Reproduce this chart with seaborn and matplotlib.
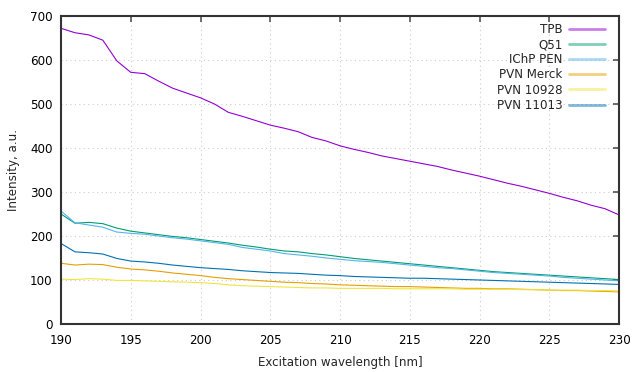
import numpy as np
import pandas as pd
import matplotlib
matplotlib.use("Agg")
import matplotlib.pyplot as plt
import seaborn as sns
from matplotlib.lines import Line2D

# wavelength grid, 1 nm steps
wavelength = list(range(190, 231))

tpb = [672, 662, 657, 645, 598, 572, 569, 552, 536, 525, 514, 500, 481, 472, 462, 452,
       445, 437, 424, 416, 405, 397, 390, 382, 376, 370, 364, 358, 350, 343, 336, 328,
       320, 313, 305, 297, 288, 280, 270, 262, 248]
q51 = [250, 229, 231, 228, 218, 211, 207, 203, 199, 196, 192, 188, 184, 179, 175, 170,
       166, 164, 160, 157, 153, 149, 146, 143, 140, 137, 134, 131, 128, 125, 122, 119,
       117, 115, 113, 111, 109, 107, 105, 103, 101]
ichp_pen = [257, 230, 225, 220, 209, 206, 204, 200, 196, 193, 189, 185, 181, 174, 170, 166,
            160, 157, 154, 150, 147, 144, 142, 140, 137, 134, 131, 128, 126, 123, 120, 117,
            115, 113, 111, 109, 106, 104, 102, 100, 98]
pvn_merck = [138, 134, 136, 135, 129, 125, 123, 120, 116, 113, 110, 106, 103, 101, 99, 97,
             95, 94, 92, 91, 89, 88, 87, 86, 85, 85, 84, 83, 82, 81, 81, 80,
             80, 79, 78, 77, 76, 76, 75, 74, 73]
pvn_10928 = [102, 101, 103, 102, 99, 99, 98, 97, 96, 95, 94, 92, 89, 87, 86, 85,
             84, 83, 82, 82, 81, 81, 81, 81, 80, 80, 80, 80, 80, 79, 79, 79,
             79, 78, 78, 77, 77, 77, 76, 76, 75]
pvn_11013 = [183, 164, 162, 159, 149, 143, 141, 138, 134, 131, 128, 126, 124, 121, 119, 117,
             116, 115, 113, 111, 110, 108, 107, 106, 105, 104, 104, 103, 102, 101, 100, 99,
             98, 97, 96, 95, 94, 93, 92, 91, 90]

labels = ["TPB", "Q51", "IChP PEN", "PVN Merck", "PVN 10928", "PVN 11013"]
colors = ["#9400d3", "#009e73", "#56b4e9", "#e69f00", "#f0e442", "#0072b2"]
series = [tpb, q51, ichp_pen, pvn_merck, pvn_10928, pvn_11013]

df = pd.concat([pd.DataFrame({"wl": wavelength, "val": s, "name": n})
                for n, s in zip(labels, series)], ignore_index=True)

sns.set_style("white")
plt.rcParams["font.family"] = ["DejaVu Sans"]
fs = 8.6

fig = plt.figure(figsize=(6.4, 3.72), dpi=100)
ax = fig.add_axes([61 / 640, 1 - 324 / 372, 558 / 640, 308 / 372])

sns.lineplot(data=df, x="wl", y="val", hue="name", hue_order=labels,
             palette=dict(zip(labels, colors)), linewidth=0.8, legend=False, ax=ax)

ax.set_xlim(190, 230)
ax.set_ylim(0, 700)
ax.set_xticks(range(190, 231, 5))
ax.set_yticks(range(0, 701, 100))
ax.grid(True, color="#cccccc", linestyle=(0, (1, 3)), linewidth=0.8)
ax.tick_params(direction="in", length=4, width=1.2, color="#555555",
               top=True, right=True, labelsize=fs, colors="#555555",
               labelcolor="black")
ax.tick_params(axis="x", pad=7)
ax.tick_params(axis="y", pad=6)
for sp in ax.spines.values():
    sp.set_color("#333333")
    sp.set_linewidth(1.5)
ax.set_xlabel("Excitation wavelength [nm]", fontsize=fs, labelpad=7)
ax.set_ylabel("Intensity, a.u.", fontsize=fs, labelpad=7)

handles = [Line2D([0], [0], color=c, lw=2, alpha=0.5) for c in colors]
leg = ax.legend(handles, labels, loc="upper right", frameon=False, markerfirst=False,
                fontsize=fs, handlelength=3.0, handletextpad=0.55, labelspacing=0.18,
                borderaxespad=0, borderpad=0,
                bbox_to_anchor=(1 - 14 / 558, 1 - 7 / 308))

fig.savefig("out.png", dpi=100)
